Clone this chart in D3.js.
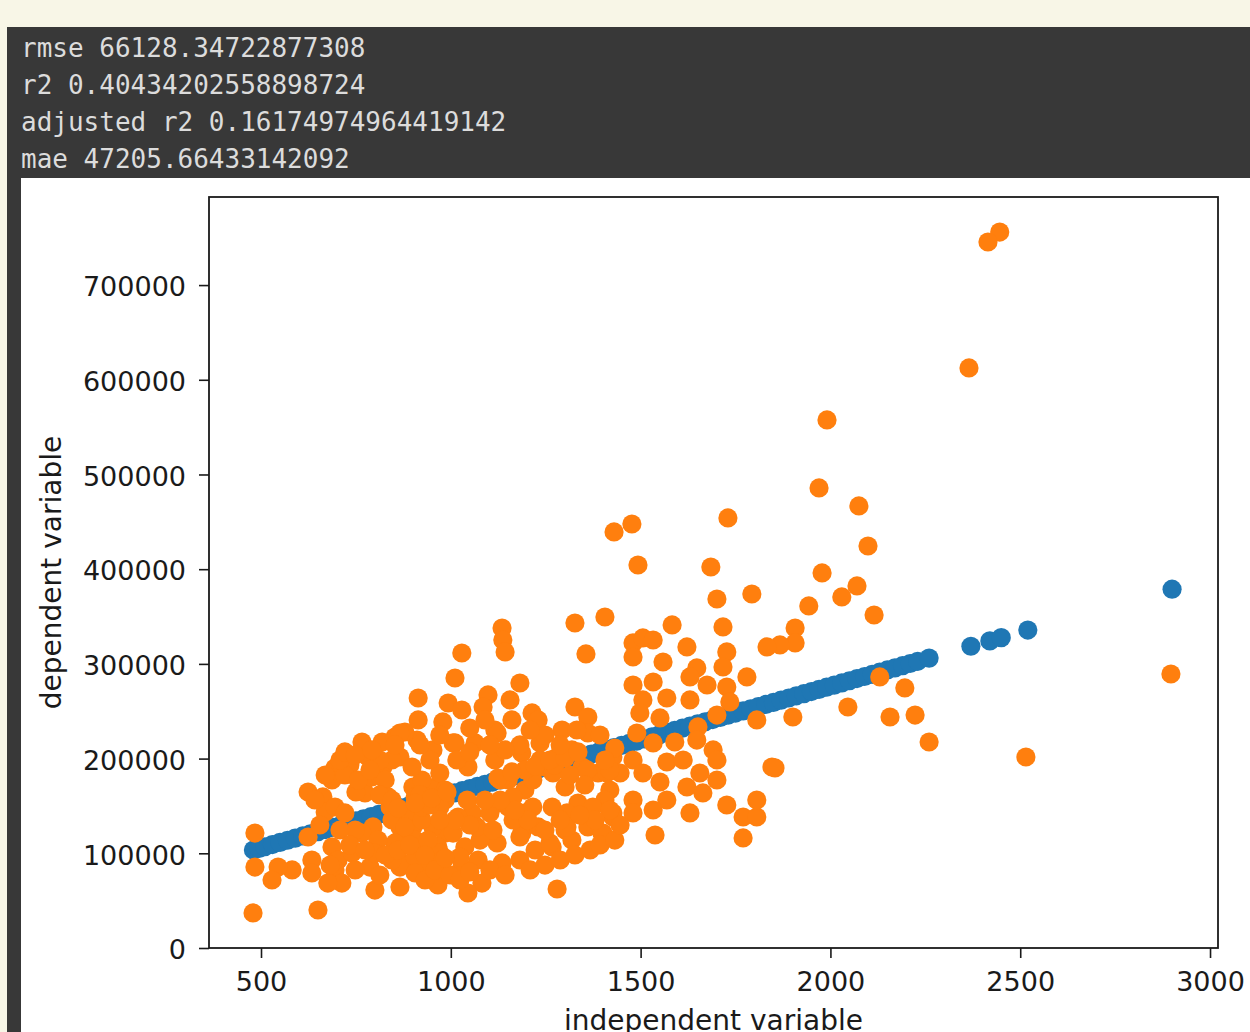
<!DOCTYPE html>
<html>
<head>
<meta charset="utf-8">
<script src="https://cdn.jsdelivr.net/npm/d3@7"></script>
<style>
  body { margin: 0; background: #f8f6e7; }
  svg { display: block; }
</style>
</head>
<body>
<div id="chart"></div>
<script>
/* printed metrics above the plot */
var metricLines = [
  "rmse 66128.34722877308",
  "r2 0.40434202558898724",
  "adjusted r2 0.16174974964419142",
  "mae 47205.66433142092"
];

var xTicks = [500, 1000, 1500, 2000, 2500, 3000];
var yTicks = [0, 100000, 200000, 300000, 400000, 500000, 600000, 700000];

/* predictions (blue) */
var predicted = [
  [480, 103500], [495, 105200], [510, 106900], [530, 109200], [550, 111500],
  [570, 113800], [590, 116000], [610, 118300], [630, 120600], [650, 122900],
  [670, 125100], [690, 127400], [710, 129700], [730, 132000], [750, 134300],
  [770, 136500], [790, 138800], [810, 141100], [830, 143400], [850, 145600],
  [870, 147900], [890, 150200], [910, 152500], [930, 154700], [950, 157000],
  [970, 159300], [990, 161600], [1010, 163800], [1030, 166100], [1050, 168400],
  [1070, 170700], [1090, 172900], [1110, 175200], [1130, 177500], [1150, 179800],
  [1170, 182000], [1190, 184300], [1210, 186600], [1230, 188900], [1250, 191200],
  [1270, 193400], [1290, 195700], [1310, 198000], [1330, 200300], [1350, 202500],
  [1370, 204800], [1390, 207100], [1410, 209400], [1430, 211600], [1450, 213900],
  [1470, 216200], [1490, 218500], [1510, 220700], [1530, 223000], [1550, 225300],
  [1570, 227600], [1590, 229800], [1610, 232100], [1630, 234400], [1650, 236700],
  [1670, 238900], [1690, 241200], [1710, 243500], [1730, 245800], [1750, 248100],
  [1770, 250300], [1790, 252600], [1810, 254900], [1830, 257200], [1850, 259400],
  [1870, 261700], [1890, 264000], [1910, 266300], [1930, 268500], [1950, 270800],
  [1970, 273100], [1990, 275400], [2010, 277600], [2030, 279900], [2050, 282200],
  [2070, 284500], [2090, 286700], [2110, 289000], [2130, 291300], [2150, 293600],
  [2170, 295800], [2190, 298100], [2210, 300400], [2230, 302700], [2260, 306100],
  [2370, 318600], [2420, 324300], [2450, 327700], [2520, 335700], [2900, 378900]
];

var actual = [
  [2446, 756000], [2415, 745500], [2365, 612500], [1991, 557600], [1970, 485800],
  [2075, 466800], [2099, 424500], [1430, 439300], [1477, 447700], [1493, 404400],
  [1730, 454100], [1685, 402300], [1701, 368500], [1793, 373800], [1978, 396000],
  [2070, 382300], [2030, 370700], [1943, 361200], [2115, 351600], [2897, 289300],
  [2515, 201700], [1406, 349500], [1327, 343200], [1356, 310500], [1583, 341100],
  [1717, 339000], [1907, 337900], [1907, 322100], [1867, 320000], [1833, 317900],
  [1727, 312600], [1717, 296700], [1622, 317900], [1559, 302000], [1480, 322100],
  [1506, 327400], [1533, 325200], [1480, 307300], [1648, 295700], [1630, 286200],
  [1780, 286200], [1480, 277700], [1533, 280900], [1675, 277700], [1727, 275600],
  [1569, 264000], [1506, 261900], [1630, 261900], [1735, 259800], [1701, 246000],
  [1806, 240800], [1498, 248200], [1551, 242900], [1651, 233400], [1490, 227000],
  [1533, 216500], [1590, 217500], [1648, 219600], [1691, 209100], [1701, 198500],
  [1569, 196400], [1427, 201700], [1480, 198500], [1506, 184800], [1551, 175300],
  [1612, 198500], [1656, 184800], [1701, 177400], [1622, 170000], [1664, 163700],
  [1569, 156300], [1480, 156300], [1419, 166800], [1533, 145700], [1630, 142600],
  [1480, 142600], [1427, 142600], [1727, 151000], [1770, 138300], [1806, 138300],
  [1806, 156300], [1770, 116200], [1538, 119300], [1846, 191100], [1401, 121400],
  [1446, 184800], [2130, 286200], [2196, 274600], [2046, 254500], [1901, 243900],
  [2157, 243900], [2223, 246000], [2260, 217500], [1854, 190100], [1280, 62300],
  [1135, 337900], [1137, 325200], [1143, 312600], [1029, 311500], [1011, 285100],
  [1182, 279800], [1098, 267200], [1156, 261900], [993, 258700], [1029, 251300],
  [1214, 248200], [1230, 240800], [1116, 230200], [1161, 240800], [1327, 254500],
  [1361, 243900], [1293, 230200], [1361, 227000], [1011, 216500], [1064, 216500],
  [1235, 216500], [1187, 205900], [1116, 198500], [1319, 209100], [1346, 191100],
  [1248, 191100], [1045, 191100], [1388, 184800], [1151, 177400], [1195, 166800],
  [1301, 170000], [1406, 156300], [1335, 153100], [1267, 148900], [1195, 142600],
  [1151, 148900], [1108, 148900], [1056, 142600], [1090, 121400], [1187, 121400],
  [1230, 127800], [1301, 124600], [1361, 127800], [1398, 121400], [1319, 114000],
  [1267, 106700], [1222, 103500], [1135, 89800], [1072, 92900], [1029, 85500],
  [977, 85500], [1082, 68600], [1045, 58100], [966, 66500], [940, 85500],
  [958, 170000], [985, 156300], [1019, 138300], [985, 121400], [1037, 106700],
  [966, 106700], [914, 264000], [979, 238700], [1085, 254500], [1122, 227000],
  [1332, 230200], [766, 217500], [819, 217500], [866, 201700], [911, 219600],
  [953, 209100], [1006, 216500], [1016, 198500], [1280, 201700], [1216, 177400],
  [1359, 188000], [1269, 184800], [1411, 184800], [1130, 177400], [971, 184800],
  [900, 170000], [821, 191100], [769, 174200], [1216, 148900], [1306, 142600],
  [1374, 148900], [1427, 138300], [1164, 159500], [1103, 142600], [1043, 156300],
  [971, 148900], [919, 142600], [866, 127800], [795, 127800], [1306, 127800],
  [1261, 110900], [1182, 117200], [1122, 110900], [1077, 114000], [1024, 96100],
  [971, 100300], [911, 103500], [866, 114000], [787, 85500], [866, 85500],
  [927, 85500], [979, 92900], [866, 64400], [800, 61200], [650, 40100],
  [479, 37000], [900, 127800], [953, 127800], [1006, 121400], [1069, 127800],
  [1111, 124600], [1164, 135200], [840, 148900], [953, 166800], [914, 240800],
  [853, 222800], [879, 228100], [695, 190100], [734, 193200], [687, 177400],
  [624, 164700], [663, 159500], [669, 143600], [695, 148900], [721, 142600],
  [774, 163700], [792, 180600], [827, 177400], [835, 159500], [766, 121400],
  [845, 135200], [887, 142600], [906, 159500], [924, 177400], [906, 114000],
  [853, 110900], [808, 114000], [624, 117200], [484, 121400], [687, 106700],
  [703, 92900], [695, 82400], [713, 68600], [676, 68600], [634, 92900],
  [634, 79200], [582, 82400], [545, 85500], [529, 71800], [484, 85500],
  [871, 89800], [906, 96100], [906, 79200], [932, 71800], [845, 92900],
  [800, 100300], [740, 100300], [879, 127800], [924, 135200], [924, 148900],
  [898, 191100], [845, 198500], [782, 201700], [750, 164700], [748, 124600],
  [708, 124600], [655, 129900], [866, 227000],
  [721, 182700], [756, 177400], [813, 161600], [845, 156300], [734, 108800],
  [774, 103500], [827, 98200], [861, 103500], [892, 108800], [940, 114000],
  [932, 98200], [958, 82400], [998, 77100], [1024, 71800], [1050, 80300],
  [1103, 82400], [1143, 77100], [1182, 92900], [1209, 82400], [1248, 87600],
  [1288, 92900], [1327, 98200], [1367, 103500], [1393, 108800], [1432, 114000],
  [1446, 129900], [1419, 145700], [1380, 135200], [1340, 140400], [1288, 135200],
  [1248, 124600], [1203, 135200], [1169, 145700], [1130, 156300], [1090, 156300],
  [1050, 129900], [1011, 135200], [971, 135200], [945, 151000], [919, 161600],
  [985, 166800], [1195, 188000], [1235, 198500], [1274, 193200], [1314, 182700],
  [1353, 172100], [1419, 188000], [1182, 214400], [1143, 209100], [1103, 214400],
  [1050, 207000], [945, 198500], [919, 214400], [813, 198500], [787, 188000],
  [708, 198500], [669, 182700], [642, 156300], [682, 87600], [748, 82400],
  [813, 77100], [985, 95000],
  [861, 147800], [906, 153100], [950, 158400], [990, 164700], [1124, 179500],
  [1161, 185900], [1222, 192200], [1261, 198500], [1301, 200600], [1335, 207000],
  [721, 207000], [748, 203800], [792, 209100], [853, 214400], [971, 224900],
  [1050, 232300], [1090, 240800], [1248, 224900], [1288, 214400], [1393, 224900],
  [1432, 211200], [1209, 230200], [1406, 198500]
];

var width = 1250;
var height = 1032;
var plot = {left: 209, right: 1218, top: 197, bottom: 948};
var fontFamily = "'DejaVu Sans', sans-serif";

var svg = d3.select("#chart").append("svg")
  .attr("width", width)
  .attr("height", height);

// page background + notebook output cell
svg.append("rect")
  .attr("width", width).attr("height", height)
  .attr("fill", "#f8f6e7");
svg.append("rect")
  .attr("x", 7).attr("y", 27)
  .attr("width", width - 7).attr("height", height - 27)
  .attr("fill", "#383838");
svg.append("rect")
  .attr("x", 21).attr("y", 178)
  .attr("width", width - 21).attr("height", height - 178)
  .attr("fill", "#ffffff");

svg.selectAll(".metric")
  .data(metricLines)
  .enter().append("text")
    .attr("class", "metric")
    .attr("x", 21)
    .attr("y", (d, i) => 57 + i * 37)
    .style("font-family", "'DejaVu Sans Mono', monospace")
    .style("font-size", "26px")
    .style("fill", "#dcdcdc")
    .text(d => d);

var xScale = d3.scaleLinear()
  .domain([363, 3021])
  .range([plot.left, plot.right]);
var yScale = d3.scaleLinear()
  .domain([0, 793000])
  .range([plot.bottom, plot.top]);

/* scatter: predictions first, actual values drawn on top */
svg.append("g").selectAll("circle")
  .data(predicted)
  .enter().append("circle")
    .attr("cx", d => xScale(d[0]))
    .attr("cy", d => yScale(d[1]))
    .attr("r", 9.6)
    .attr("fill", "#1f77b4");
svg.append("g").selectAll("circle")
  .data(actual)
  .enter().append("circle")
    .attr("cx", d => xScale(d[0]))
    .attr("cy", d => yScale(d[1]))
    .attr("r", 9.6)
    .attr("fill", "#ff7f0e");

// frame
svg.append("rect")
  .attr("x", plot.left).attr("y", plot.top)
  .attr("width", plot.right - plot.left)
  .attr("height", plot.bottom - plot.top)
  .attr("fill", "none")
  .attr("stroke", "#1a1a1a")
  .attr("stroke-width", 1.8);

var xAxis = d3.axisBottom(xScale)
  .tickValues(xTicks)
  .tickSize(10)
  .tickSizeOuter(0)
  .tickPadding(14)
  .tickFormat(d3.format("d"));
var gx = svg.append("g")
  .attr("transform", "translate(0," + plot.bottom + ")")
  .call(xAxis);

var yAxis = d3.axisLeft(yScale)
  .tickValues(yTicks)
  .tickSize(10)
  .tickSizeOuter(0)
  .tickPadding(13)
  .tickFormat(d3.format("d"));
var gy = svg.append("g")
  .attr("transform", "translate(" + plot.left + ",0)")
  .call(yAxis);
gy.selectAll("text").attr("dy", "0.4em");

[gx, gy].forEach(function (g) {
  g.select(".domain").remove();
  g.selectAll("line").attr("stroke", "#1a1a1a").attr("stroke-width", 1.6);
  g.selectAll("text")
    .style("font-family", fontFamily)
    .style("font-size", "27px")
    .style("fill", "#1a1a1a");
});

svg.append("text")
  .attr("x", (plot.left + plot.right) / 2)
  .attr("y", 1030)
  .attr("text-anchor", "middle")
  .style("font-family", fontFamily)
  .style("font-size", "28px")
  .style("fill", "#1a1a1a")
  .text("independent variable");

svg.append("text")
  .attr("transform", "translate(61," + ((plot.top + plot.bottom) / 2) + ") rotate(-90)")
  .attr("text-anchor", "middle")
  .style("font-family", fontFamily)
  .style("font-size", "28px")
  .style("fill", "#1a1a1a")
  .text("dependent variable");
</script>
</body>
</html>
